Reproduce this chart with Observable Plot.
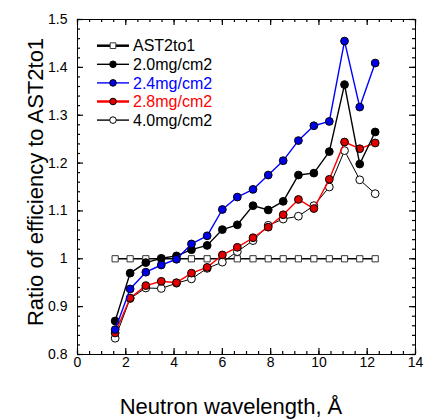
<!DOCTYPE html>
<html><head><meta charset="utf-8">
<script src="https://cdn.jsdelivr.net/npm/d3@7"></script>
<script src="https://cdn.jsdelivr.net/npm/@observablehq/plot@0.6"></script>
<style>
body{margin:0;background:#fff;}
#chart{position:relative;width:426px;height:419px;}
</style>
</head><body><div id="chart"></div>
<script>
const wavelength = [1.56, 2.18, 2.83, 3.47, 4.10, 4.72, 5.37, 6.00, 6.62, 7.27, 7.90, 8.52, 9.15, 9.79, 10.43, 11.06, 11.69, 12.33];
const ast2to1 = [1, 1, 1, 1, 1, 1, 1, 1, 1, 1, 1, 1, 1, 1, 1, 1, 1, 1];
const mg20 = [0.870, 0.970, 0.992, 1.001, 1.006, 1.019, 1.028, 1.061, 1.071, 1.111, 1.102, 1.120, 1.175, 1.179, 1.224, 1.364, 1.198, 1.265];
const mg24 = [0.852, 0.937, 0.972, 0.987, 0.999, 1.031, 1.048, 1.103, 1.129, 1.145, 1.175, 1.205, 1.247, 1.278, 1.287, 1.455, 1.317, 1.409];
const mg28 = [0.845, 0.918, 0.944, 0.953, 0.950, 0.970, 0.982, 1.008, 1.024, 1.044, 1.066, 1.092, 1.124, 1.105, 1.166, 1.244, 1.230, 1.242];
const mg40 = [0.834, 0.917, 0.939, 0.938, 0.949, 0.958, 0.980, 0.993, 1.015, 1.038, 1.070, 1.083, 1.089, 1.111, 1.150, 1.226, 1.165, 1.136];
const seriesNames = ["AST2to1", "2.0mg/cm2", "2.4mg/cm2", "2.8mg/cm2", "4.0mg/cm2"];
const xTicks = [0, 2, 4, 6, 8, 10, 12, 14];
const yTicks = [0.8, 0.9, 1, 1.1, 1.2, 1.3, 1.4, 1.5];
const yTickLabels = ["0.8", "0.9", "1", "1.1", "1.2", "1.3", "1.4", "1.5"];
const xTitle = "Neutron wavelength, Å";
const yTitle = "Ratio of efficiency to AST2to1";

const seriesValues = {"AST2to1": ast2to1, "2.0mg/cm2": mg20, "2.4mg/cm2": mg24, "2.8mg/cm2": mg28, "4.0mg/cm2": mg40};
const style = {
  "AST2to1":   {line: "#000", lw: 1.5, legendLw: 2.5, symbol: "square", fill: "#fff", dotStroke: "#333", r: 3.5, lr: 3.2, text: "#000"},
  "2.0mg/cm2": {line: "#000", lw: 1.4, legendLw: 1.4, symbol: "circle", fill: "#000", dotStroke: "#000", r: 3.9, lr: 3.3, text: "#000"},
  "2.4mg/cm2": {line: "#0000ff", lw: 1.4, legendLw: 1.4, symbol: "circle", fill: "#0000e6", dotStroke: "#000", r: 3.9, lr: 3.3, text: "#0000ff"},
  "2.8mg/cm2": {line: "#ff0000", lw: 1.4, legendLw: 2.5, symbol: "circle", fill: "#e00000", dotStroke: "#000", r: 3.9, lr: 3.3, text: "#ff0000"},
  "4.0mg/cm2": {line: "#000", lw: 1.0, legendLw: 1.4, symbol: "circle", fill: "#fff", dotStroke: "#000", r: 3.9, lr: 3.3, text: "#000"}
};
const drawOrder = ["AST2to1", "4.0mg/cm2", "2.8mg/cm2", "2.0mg/cm2", "2.4mg/cm2"];

const W = 426, H = 419, mL = 77, mR = 11, mT = 19, mB = 65;
const plotW = W - mL - mR, plotH = H - mT - mB;
const xDom = [0, 14], yDom = [0.8, 1.5];
// tick lengths in pixels, converted to data units
const dy = len => len / plotH * (yDom[1] - yDom[0]);
const dx = len => len / plotW * (xDom[1] - xDom[0]);

const marks = [];
for (const name of drawOrder) {
  const s = style[name];
  const rows = wavelength.map((x, i) => ({x, y: seriesValues[name][i]}));
  marks.push(Plot.line(rows, {x: "x", y: "y", stroke: s.line, strokeWidth: s.lw}));
  marks.push(Plot.dot(rows, {x: "x", y: "y", symbol: s.symbol, r: s.r, fill: s.fill, stroke: s.dotStroke, strokeWidth: 1}));
}
const xMinor = d3.range(0, 14.001, 0.5);
const yMinor = d3.range(0.8, 1.5001, 0.02);
const xTickRules = (vals, len) => [
  Plot.ruleX(vals, {x: d => d, y1: yDom[0], y2: yDom[0] + dy(len), stroke: "#000", strokeWidth: 1.2}),
  Plot.ruleX(vals, {x: d => d, y1: yDom[1], y2: yDom[1] - dy(len), stroke: "#000", strokeWidth: 1.2})
];
const yTickRules = (vals, len) => [
  Plot.ruleY(vals, {y: d => d, x1: xDom[0], x2: xDom[0] + dx(len), stroke: "#000", strokeWidth: 1.2}),
  Plot.ruleY(vals, {y: d => d, x1: xDom[1], x2: xDom[1] - dx(len), stroke: "#000", strokeWidth: 1.2})
];

const chart = Plot.plot({
  width: W, height: H,
  marginLeft: mL, marginRight: mR, marginTop: mT, marginBottom: mB,
  style: {fontFamily: "'Liberation Sans', Arial, sans-serif", fontSize: "14px", background: "#fff", color: "#000"},
  x: {domain: xDom, axis: null},
  y: {domain: yDom, axis: null},
  marks: [
    Plot.frame({stroke: "#000", fill: "none", strokeWidth: 1}),
    ...xTickRules(xMinor, 3),
    ...xTickRules(xTicks, 6),
    ...yTickRules(yMinor, 3),
    ...yTickRules(yTicks, 6),
    Plot.text(xTicks, {x: d => d, frameAnchor: "bottom", dy: 3, lineAnchor: "top", fontSize: 14, fill: "#000", text: d => String(d)}),
    Plot.text(yTicks, {y: d => d, frameAnchor: "left", dx: -10, textAnchor: "end", fontSize: 14, fill: "#000", text: (d, i) => yTickLabels[i]}),
    ...marks
  ]
});
document.getElementById("chart").appendChild(chart);

const svg = d3.select(chart);
svg.append("text").attr("x", 231).attr("y", 414).attr("text-anchor", "middle")
  .style("font-size", "22px").attr("fill", "#000").text(xTitle);
svg.append("text").attr("transform", "translate(43,182) rotate(-90)").attr("text-anchor", "middle")
  .style("font-size", "22px").attr("fill", "#000").text(yTitle);

const lg = svg.append("g").attr("text-anchor", "start");
seriesNames.forEach((name, i) => {
  const s = style[name];
  const cy = 45.7 + i * 18.6;
  lg.append("line").attr("x1", 97).attr("x2", 129).attr("y1", cy).attr("y2", cy)
    .attr("stroke", s.line).attr("stroke-width", s.legendLw);
  const sym = d3.symbol(s.symbol === "square" ? d3.symbolSquare : d3.symbolCircle, Math.PI * s.lr * s.lr);
  lg.append("path").attr("d", sym()).attr("transform", `translate(113,${cy})`)
    .attr("fill", s.fill).attr("stroke", s.dotStroke);
  lg.append("text").attr("x", 133).attr("y", cy).attr("dy", "0.36em").attr("text-anchor", "start")
    .style("font-size", "16px").attr("fill", s.text).text(name);
});
</script>
</body></html>
